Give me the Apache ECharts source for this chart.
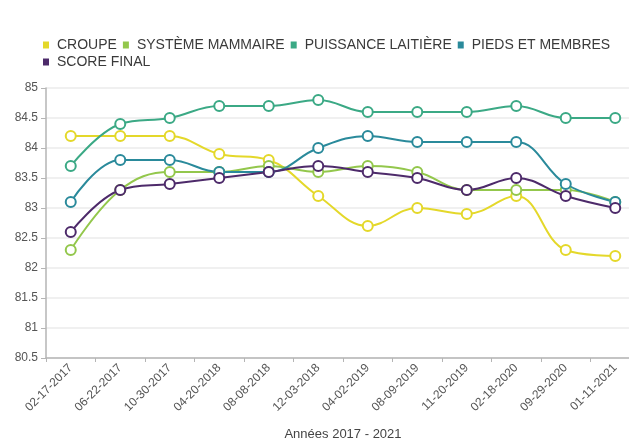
<!DOCTYPE html>
<html>
<head>
<meta charset="utf-8">
<script src="https://cdn.jsdelivr.net/npm/echarts@6/dist/echarts.min.js"></script>
<style>
html,body{margin:0;padding:0;background:#fff;}
#chart{width:629px;height:442px;}
</style>
</head>
<body>
<div id="chart"></div>
<script>
const categories = ['02-17-2017','06-22-2017','10-30-2017','04-20-2018','08-08-2018','12-03-2018','04-02-2019','08-09-2019','11-20-2019','02-18-2020','09-29-2020','01-11-2021'];
const croupe = [84.2, 84.2, 84.2, 83.9, 83.8, 83.2, 82.7, 83.0, 82.9, 83.2, 82.3, 82.2];
const systemeMammaire = [82.3, 83.3, 83.6, 83.6, 83.7, 83.6, 83.7, 83.6, 83.3, 83.3, 83.3, 83.1];
const puissanceLaitiere = [83.7, 84.4, 84.5, 84.7, 84.7, 84.8, 84.6, 84.6, 84.6, 84.7, 84.5, 84.5];
const piedsMembres = [83.1, 83.8, 83.8, 83.6, 83.6, 84.0, 84.2, 84.1, 84.1, 84.1, 83.4, 83.1];
const scoreFinal = [82.6, 83.3, 83.4, 83.5, 83.6, 83.7, 83.6, 83.5, 83.3, 83.5, 83.2, 83.0];
const seriesNames = ['CROUPE','SYSTÈME MAMMAIRE','PUISSANCE LAITIÈRE','PIEDS ET MEMBRES','SCORE FINAL'];
const colors = ['#e4d82a','#93c74c','#3ba985','#2a8a9b','#4d2a6a'];
const seriesData = [croupe, systemeMammaire, puissanceLaitiere, piedsMembres, scoreFinal];

const legendBase = {
  left: 43, width: 600, padding: 0,
  itemWidth: 6, itemHeight: 7, itemGap: 6,
  icon: 'rect',
  textStyle: {fontSize: 14, color: '#3a3a3a', padding: [0,0,0,3]}
};
const legendItems = seriesNames.map((n, i) => ({name: n, itemStyle: {color: colors[i], borderWidth: 0}}));

const chart = echarts.init(document.getElementById('chart'), null, {renderer:'canvas'});
chart.setOption({
  animation: false,
  color: colors,
  textStyle: {fontFamily: 'Liberation Sans, Arial, sans-serif'},
  legend: [
    Object.assign({}, legendBase, {top: 38, data: legendItems.slice(0, 4)}),
    Object.assign({}, legendBase, {top: 55, data: legendItems.slice(4)})
  ],
  grid: {left: 46, top: 88, width: 594, bottom: 84, containLabel: false, outerBoundsMode: 'none'},
  xAxis: {
    type: 'category',
    data: categories,
    boundaryGap: true,
    name: 'Années 2017 - 2021',
    nameLocation: 'middle',
    nameGap: 70,
    nameTextStyle: {fontSize: 13, color: '#444'},
    axisLine: {lineStyle: {color: '#b5b5b5', width: 1.5}},
    axisTick: {show: true, alignWithLabel: false, length: 4, lineStyle: {color: '#b5b5b5'}},
    axisLabel: {rotate: 45, fontSize: 12, color: '#555', margin: 8, interval: 0}
  },
  yAxis: {
    type: 'value',
    min: 80.5, max: 85, interval: 0.5,
    axisLine: {show: true, lineStyle: {color: '#b5b5b5', width: 1.5}},
    axisTick: {show: true, length: 5, lineStyle: {color: '#b5b5b5'}},
    axisLabel: {fontSize: 12, color: '#555', margin: 8},
    splitLine: {lineStyle: {color: '#ebebeb', width: 1.5}}
  },
  series: seriesNames.map((n, i) => ({
    name: n,
    type: 'line',
    smooth: 0.4,
    data: seriesData[i],
    symbol: 'circle',
    symbolSize: 10,
    showAllSymbol: true,
    lineStyle: {width: 2, color: colors[i]},
    itemStyle: {color: '#fff', borderColor: colors[i], borderWidth: 2}
  }))
});
</script>
</body>
</html>
